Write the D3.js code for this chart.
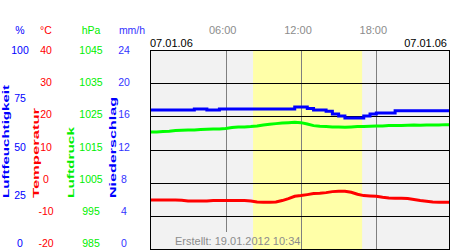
<!DOCTYPE html>
<html>
<head>
<meta charset="utf-8">
<script src="https://cdn.jsdelivr.net/npm/d3@7"></script>
<style>
body { margin: 0; background: #fff; }
svg { display: block; font-family: "Liberation Sans", Arial, sans-serif; }
</style>
</head>
<body>
<script>
var width = 450;
var height = 250;

// half-hour readings for 07.01.06
var hours = d3.range(0, 24.5, 0.5);
var humidity = [69.8, 69.8, 69.8, 69.8, 69.8, 69.8, 69.8, 70.4, 70.4, 69.8, 69.8, 70.4,
    70.4, 70.4, 70.4, 70.4, 70.4, 70.4, 70.4, 70.4, 70.4, 70.4, 70.4, 71.4,
    71.4, 70.6, 69.8, 69.8, 69.2, 67.8, 66.8, 65.8, 65.8, 65.8, 66.8, 67.8,
    68.3, 68.3, 68.3, 69.5, 69.5, 69.5, 69.5, 69.5, 69.5, 69.5, 69.5, 69.5, 69.5];
var temperature = [-5.2, -5.2, -5.2, -5.2, -5.2, -5.3, -5.5, -5.5, -5.5, -5.5, -5.4, -5.4,
    -5.4, -5.4, -5.4, -5.4, -5.5, -5.8, -5.9, -5.9, -5.8, -5.4, -4.8, -4.1,
    -3.9, -3.6, -3.3, -3.2, -3.0, -2.7, -2.6, -2.6, -2.9, -3.5, -3.9, -4.0,
    -4.1, -4.4, -4.6, -4.7, -4.7, -4.8, -5.1, -5.4, -5.6, -5.8, -5.9, -5.9, -5.9];
var pressure = [1020.3, 1020.3, 1020.4, 1020.5, 1020.7, 1020.8, 1020.9, 1020.9, 1021.0, 1021.1, 1021.2, 1021.2,
    1021.3, 1021.6, 1021.8, 1021.8, 1021.9, 1022.1, 1022.4, 1022.6, 1022.8, 1023.0, 1023.1, 1023.2,
    1023.1, 1022.7, 1022.2, 1022.0, 1021.9, 1021.8, 1021.8, 1021.7, 1021.8, 1021.9, 1021.9, 1022.0,
    1022.1, 1022.1, 1022.2, 1022.2, 1022.2, 1022.3, 1022.4, 1022.3, 1022.4, 1022.4, 1022.4, 1022.5, 1022.5];

var sunrise = 8.18;
var sunset = 16.87;

var humTicks = [100, 75, 50, 25, 0];
var tempTicks = [40, 30, 20, 10, 0, -10, -20];
var presTicks = [1045, 1035, 1025, 1015, 1005, 995, 985];
var rainTicks = [24, 20, 16, 12, 8, 4, 0];
var timeTicks = [6, 12, 18];
var timeLabels = ["06:00", "12:00", "18:00"];

var plot = { left: 150, top: 50, right: 449, bottom: 249 };

var svg = d3.select("body").append("svg").attr("width", width).attr("height", height);

var x = d3.scaleLinear().domain([0, 24]).range([150.4, 451.6]);
var yHum = d3.scaleLinear().domain([0, 100]).range([plot.bottom, plot.top]);
var yTemp = d3.scaleLinear().domain([-20, 40]).range([plot.bottom, plot.top]);
var yPres = d3.scaleLinear().domain([985, 1045]).range([plot.bottom, plot.top]);

// label positions (text centres) are squeezed a bit to stay inside
var lab4 = d3.scaleLinear().domain([0, 4]).range([50, 243]);
var lab6 = d3.scaleLinear().domain([0, 6]).range([50, 243]);

// background, day band
svg.append("rect")
    .attr("x", plot.left).attr("y", plot.top)
    .attr("width", plot.right - plot.left).attr("height", plot.bottom - plot.top)
    .attr("fill", "#f2f2f2");
svg.append("rect")
    .attr("x", x(sunrise)).attr("y", plot.top)
    .attr("width", x(sunset) - x(sunrise)).attr("height", plot.bottom - plot.top)
    .attr("fill", "#ffffa8");

// vertical time lines
svg.selectAll(".vline").data(timeTicks).enter().append("line")
    .attr("class", "vline")
    .attr("x1", function (d) { return Math.round(x(d)) + 0.5; })
    .attr("x2", function (d) { return Math.round(x(d)) + 0.5; })
    .attr("y1", plot.top).attr("y2", plot.bottom)
    .attr("stroke", "#808080").attr("stroke-width", 1);

// horizontal grid
svg.selectAll(".hline").data([30, 20, 10, 0, -10]).enter().append("line")
    .attr("class", "hline")
    .attr("x1", plot.left).attr("x2", plot.right)
    .attr("y1", function (d) { return Math.round(yTemp(d)) + 0.5; })
    .attr("y2", function (d) { return Math.round(yTemp(d)) + 0.5; })
    .attr("stroke", "#000").attr("stroke-width", 1);

// creation note, its box hides the 06:00 line
svg.append("rect")
    .attr("x", 174).attr("y", 232)
    .attr("width", x(sunrise) - 174).attr("height", plot.bottom - 232)
    .attr("fill", "#f2f2f2");
svg.append("text")
    .attr("x", 175).attr("y", 245)
    .attr("font-size", "11px").attr("fill", "#8c8c8c")
    .text("Erstellt: 19.01.2012 10:34");

// series
svg.append("clipPath").attr("id", "clip").append("rect")
    .attr("x", plot.left).attr("y", plot.top)
    .attr("width", plot.right - plot.left).attr("height", plot.bottom - plot.top);

var g = svg.append("g").attr("clip-path", "url(#clip)");

function drawLine(values, yScale, color, curve) {
    var line = d3.line()
        .x(function (d, i) { return x(hours[i]); })
        .y(function (d) { return yScale(d); })
        .curve(curve);
    g.append("path").datum(values)
        .attr("d", line)
        .attr("fill", "none")
        .attr("stroke", color)
        .attr("stroke-width", 3);
}
drawLine(pressure, yPres, "#00ff00", d3.curveLinear);
drawLine(temperature, yTemp, "#ff0000", d3.curveLinear);
drawLine(humidity, yHum, "#0000ff", d3.curveStepAfter);

// frame
svg.append("rect")
    .attr("x", plot.left + 0.5).attr("y", plot.top + 0.5)
    .attr("width", plot.right - plot.left).attr("height", plot.bottom - plot.top)
    .attr("fill", "none").attr("stroke", "#000").attr("stroke-width", 1);

// top texts
svg.selectAll(".tlab").data(timeTicks).enter().append("text")
    .attr("class", "tlab")
    .attr("x", function (d) { return x(d) - 3; })
    .attr("y", 34)
    .attr("text-anchor", "middle")
    .attr("font-size", "11px").attr("fill", "#8c8c8c")
    .text(function (d, i) { return timeLabels[i]; });
svg.append("text").attr("x", 150).attr("y", 47).attr("font-size", "11px").text("07.01.06");
svg.append("text").attr("x", 447).attr("y", 47).attr("font-size", "11px")
    .attr("text-anchor", "end").text("07.01.06");

// axis columns
var columns = [
    { unit: "%", ticks: humTicks, x: 20, color: "#0000ff", scale: lab4 },
    { unit: "°C", ticks: tempTicks, x: 46, color: "#ff0000", scale: lab6 },
    { unit: "hPa", ticks: presTicks, x: 91, color: "#00ee00", scale: lab6 },
    { unit: "mm/h", ticks: rainTicks, x: 124, color: "#3333ff", scale: lab6 }
];
columns.forEach(function (c, ci) {
    svg.append("text")
        .attr("x", ci === 3 ? 132 : c.x).attr("y", 34)
        .attr("text-anchor", "middle")
        .attr("font-size", "10.5px").attr("fill", c.color)
        .text(c.unit);
    svg.selectAll(".col" + ci).data(c.ticks).enter().append("text")
        .attr("class", "col" + ci)
        .attr("x", c.x)
        .attr("y", function (d, i) { return c.scale(i) + 4; })
        .attr("text-anchor", "middle")
        .attr("font-size", "10.5px").attr("fill", c.color)
        .text(function (d) { return d; });
});

// rotated titles
var titles = [
    { text: "Luftfeuchtigkeit", x: 8.5, len: 113, color: "#0000ff", size: 8.5 },
    { text: "Temperatur", x: 38.5, len: 90, color: "#ff0000", size: 9 },
    { text: "Luftdruck", x: 73.5, len: 71, color: "#00ee00", size: 9.5 },
    { text: "Niederschlag", x: 115.5, len: 101, color: "#0000ff", size: 9 }
];
svg.selectAll(".title").data(titles).enter().append("text")
    .attr("class", "title")
    .attr("transform", function (d) { return "translate(" + d.x + ",198) rotate(-90)"; })
    .attr("font-weight", "bold")
    .attr("font-size", function (d) { return d.size + "px"; })
    .attr("fill", function (d) { return d.color; })
    .attr("textLength", function (d) { return d.len; })
    .attr("lengthAdjust", "spacingAndGlyphs")
    .text(function (d) { return d.text; });
</script>
</body>
</html>
